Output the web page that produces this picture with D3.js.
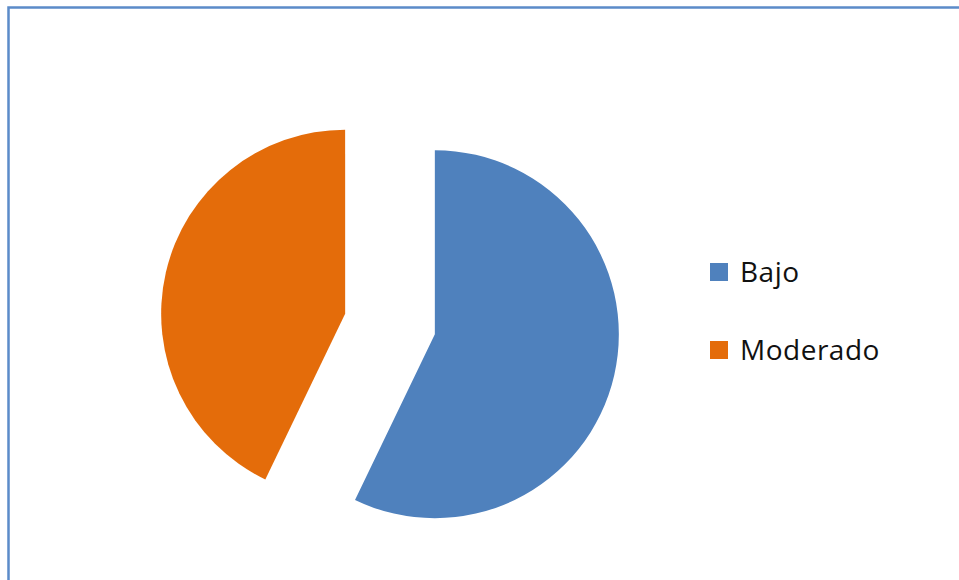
<!DOCTYPE html>
<html>
<head>
<meta charset="utf-8">
<script src="https://cdn.jsdelivr.net/npm/d3@7"></script>
<style>
  html, body { margin: 0; padding: 0; background: #fff; }
  svg { display: block; }
</style>
</head>
<body>
<svg id="chart" width="959" height="580"></svg>
<script>
// Risk level distribution
const categories = ["Bajo", "Moderado"];
const values = [4, 3];
const colors = ["#4f81bd", "#e46c0a"];

const svg = d3.select("#chart");

// Chart frame (extends beyond the right and bottom edges)
svg.append("rect")
  .attr("x", 8.5).attr("y", 7.5)
  .attr("width", 1000).attr("height", 700)
  .attr("fill", "none")
  .attr("stroke", "#5b8bc9")
  .attr("stroke-width", 2.5);

const cx = 390, cy = 324, radius = 184, explode = 46;

const pie = d3.pie().sort(null).value(d => d)(values);
const arc = d3.arc().innerRadius(0).outerRadius(radius);

svg.append("g")
  .attr("transform", `translate(${cx},${cy})`)
  .selectAll("path")
  .data(pie)
  .join("path")
  .attr("transform", d => {
    const mid = (d.startAngle + d.endAngle) / 2;
    return `translate(${explode * Math.sin(mid)},${-explode * Math.cos(mid)})`;
  })
  .attr("d", arc)
  .attr("fill", (d, i) => colors[i]);

// Legend
const legend = svg.append("g").attr("transform", "translate(710,0)");
const rowY = [282, 360];
const items = legend.selectAll("g")
  .data(categories)
  .join("g")
  .attr("transform", (d, i) => `translate(0,${rowY[i]})`);

items.append("rect")
  .attr("x", 0).attr("y", -19)
  .attr("width", 18).attr("height", 18)
  .attr("fill", (d, i) => colors[i]);

items.append("text")
  .attr("x", 30).attr("y", 0)
  .attr("font-family", "'Open Sans', sans-serif")
  .attr("font-size", 28)
  .attr("letter-spacing", 0.5)
  .attr("fill", "#111")
  .text(d => d);
</script>
</body>
</html>
